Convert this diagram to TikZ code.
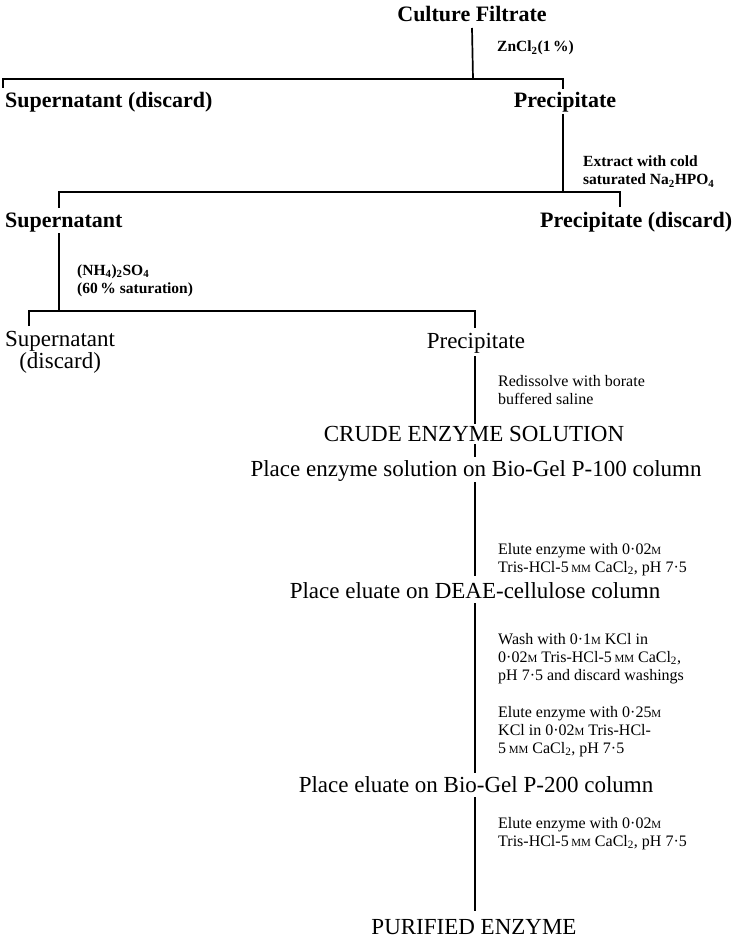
\documentclass[tikz,border=0pt]{standalone}
\usepackage{fontspec}
\setmainfont{Liberation Serif}
\newcommand\molar{{\fontsize{11}{11}\selectfont M}}
\newcommand\mmolar{{\fontsize{11}{11}\selectfont MM}}
\tikzset{
  line/.style={line width=1.7pt},
  head/.style={font=\fontsize{22}{24}\selectfont\bfseries, inner sep=0pt, anchor=base},
  stage/.style={font=\fontsize{23}{20}\selectfont, inner sep=0pt, anchor=base},
  note/.style={font=\fontsize{15.5}{18}\selectfont\bfseries, inner sep=0pt, anchor=base west, align=left},
  cond/.style={font=\fontsize{16}{18}\selectfont, inner sep=0pt, anchor=base west, align=left}
}
\begin{document}
\begin{tikzpicture}[x=1pt,y=-1pt]
\useasboundingbox (0,0) rectangle (731,941);

% ---- fractionation tree (multi-line nodes sit on their last baseline) ----
\node[head] (cf) at (472,22) {Culture Filtrate};
\node[note] (n1) at (497,52) {ZnCl\textsubscript{2}(1\,\%)};
\node[head, anchor=base west] (s1) at (5,108) {Supernatant (discard)};
\node[head] (p1) at (565,108) {Precipitate};
\node[note] (n2) at (583,185) {Extract with cold\\saturated Na\textsubscript{2}HPO\textsubscript{4}};
\node[head, anchor=base west] (s2) at (5,227) {Supernatant};
\node[head, anchor=base west] (p2) at (540,227) {Precipitate (discard)};
\node[note] (n3) at (77,293) {(NH\textsubscript{4})\textsubscript{2}SO\textsubscript{4}\\(60\,\% saturation)};
\node[stage, anchor=base west, align=center] (s3) at (5,368) {Supernatant\\(discard)};
\node[stage] (p3) at (476,348) {Precipitate};
\node[cond] (n4) at (498,404) {Redissolve with borate\\buffered saline};

% ---- column purification ----
\node[stage] (crude) at (474,441) {CRUDE ENZYME SOLUTION};
\node[stage] (c1) at (476,476) {Place enzyme solution on Bio-Gel P-100 column};
\node[cond] (n5) at (498,572) {Elute enzyme with 0·02\molar\\Tris-HCl-5\,\mmolar\ CaCl\textsubscript{2}, pH 7·5};
\node[stage] (c2) at (475,598) {Place eluate on DEAE-cellulose column};
\node[cond] (n6) at (498,680) {Wash with 0·1\molar\ KCl in\\0·02\molar\ Tris-HCl-5\,\mmolar\ CaCl\textsubscript{2},\\pH 7·5 and discard washings};
\node[cond] (n7) at (498,753) {Elute enzyme with 0·25\molar\\KCl in 0·02\molar\ Tris-HCl-\\5\,\mmolar\ CaCl\textsubscript{2}, pH 7·5};
\node[stage] (c3) at (476,792) {Place eluate on Bio-Gel P-200 column};
\node[cond] (n8) at (498,846) {Elute enzyme with 0·02\molar\\Tris-HCl-5\,\mmolar\ CaCl\textsubscript{2}, pH 7·5};
\node[stage] (pure) at (474,934) {PURIFIED ENZYME};

% bar junctions
\coordinate (b1) at (473,79);
\coordinate (b1l) at (3,79);
\coordinate (b1r) at (563,79);
\coordinate (b2) at (563,192);
\coordinate (b2l) at (59,192);
\coordinate (b2r) at (620,192);
\coordinate (b3) at (59,311);
\coordinate (b3l) at (29,311);
\coordinate (b3r) at (475,311);

% trunk of the column steps: start and end of each segment
\coordinate (t0a) at (475,356);  \coordinate (t0b) at (475,424);
\coordinate (t1a) at (475,444);  \coordinate (t1b) at (475,457);
\coordinate (t2a) at (475,482);  \coordinate (t2b) at (475,576);
\coordinate (t3a) at (475,603);  \coordinate (t3b) at (475,773);
\coordinate (t4a) at (475,797);  \coordinate (t4b) at (475,911);

% ---- connectors ----
\draw[line] (cf.south |- 0,28) -- (b1);
\draw[line] (b1l |- 0,88) -- (b1l) -- (b1r) -- (b1r |- 0,89);
\draw[line] (b2 |- 0,114) -- (b2);
\draw[line] (b2l |- 0,208) -- (b2l) -- (b2r) -- (b2r |- 0,207);
\draw[line] (b3 |- 0,233) -- (b3);
\draw[line] (b3l |- 0,326) -- (b3l) -- (b3r) -- (b3r |- 0,328);
\draw[line] (t0a) -- (t0b);
\draw[line] (t1a) -- (t1b);
\draw[line] (t2a) -- (t2b);
\draw[line] (t3a) -- (t3b);
\draw[line] (t4a) -- (t4b);
\end{tikzpicture}
\end{document}
